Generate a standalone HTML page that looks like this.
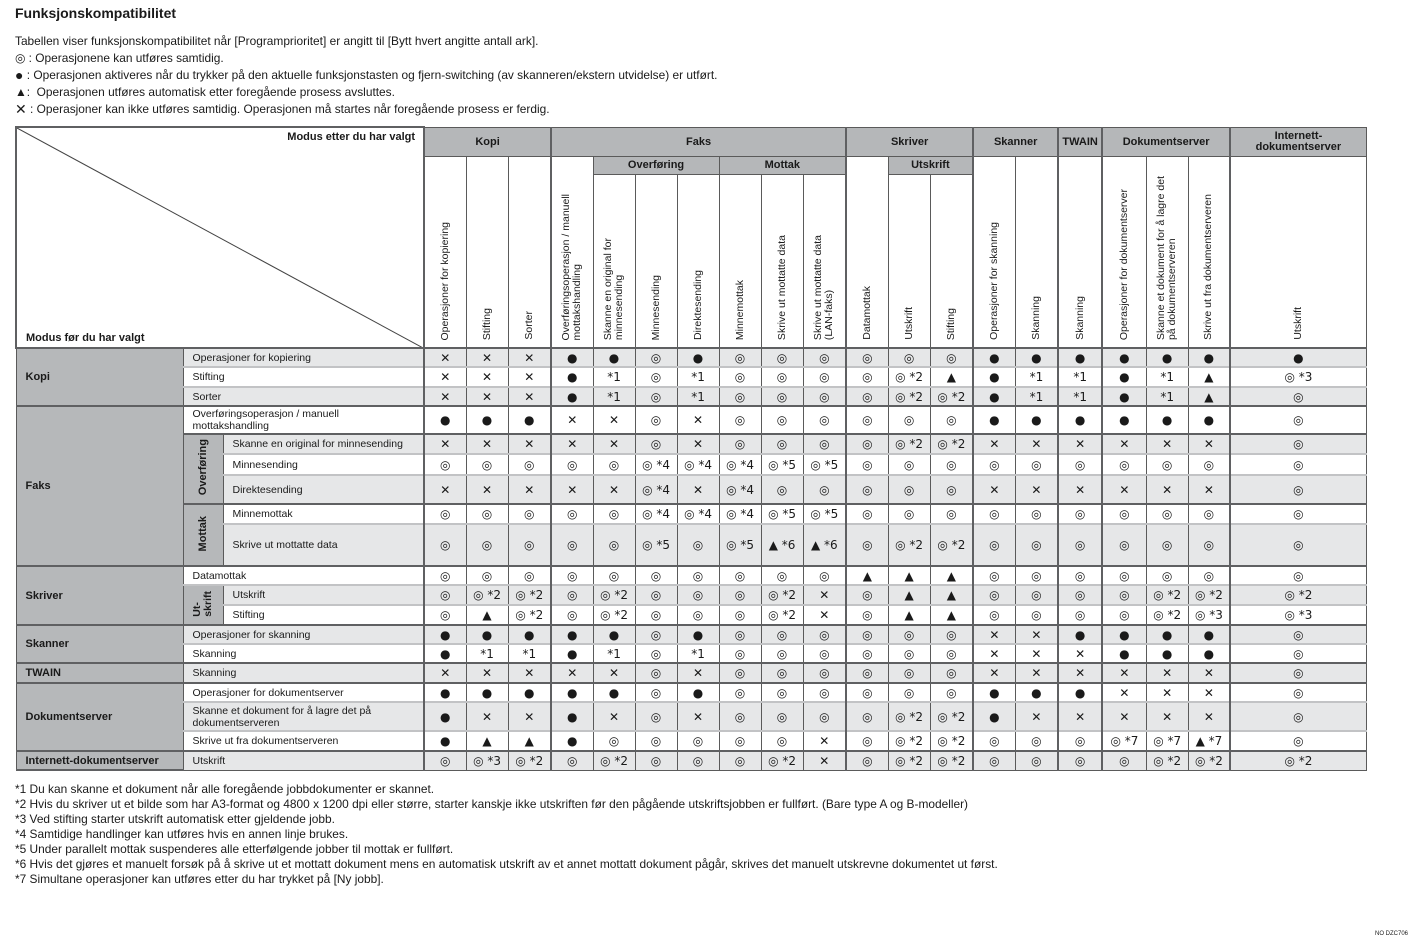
<!DOCTYPE html>
<html><head><meta charset="utf-8">
<style>
body{margin:0;width:1418px;height:941px;background:#fff;font-family:"Liberation Sans",Arial,sans-serif;color:#1a1a1a;position:relative;overflow:hidden}
.t{position:absolute;left:15px;font-size:11.9px;line-height:14px;height:14px;white-space:nowrap}
.t span{display:inline-block;line-height:14px;vertical-align:top}
h1{position:absolute;left:15px;top:5px;margin:0;font-size:14px;font-weight:bold}
table{position:absolute;left:15px;top:126px;width:1350px;border-collapse:collapse;table-layout:fixed;font-size:11px}
td{border:1px solid #5a5a5a;padding:0;text-align:center;vertical-align:middle;overflow:hidden;white-space:nowrap;font-family:"DejaVu Sans",sans-serif;font-size:12px}
.h{background:#b5b7b9;font-family:"Liberation Sans",sans-serif;font-weight:bold;font-size:11px}
.r{vertical-align:bottom;padding-bottom:4px}
.r div{writing-mode:vertical-rl;transform:rotate(180deg);font-family:"Liberation Sans",sans-serif;font-size:10.5px;line-height:11px;text-align:left;display:inline-block}
.ga{background:#b6b8ba;font-family:"Liberation Sans",sans-serif;font-weight:bold;text-align:left;padding-left:9px;font-size:11px}
.sg{background:#b6b8ba;font-family:"Liberation Sans",sans-serif;font-weight:bold;font-size:11px}
.sg div{writing-mode:vertical-rl;transform:rotate(180deg);display:inline-block;line-height:11px;text-align:left}
.lb{font-family:"Liberation Sans",sans-serif;text-align:left;padding-left:9px;font-size:10.5px;line-height:12px}
tr.s td{background:#e6e7e8}
tr.s td.ga,tr.s td.sg{background:#b6b8ba}
tr.g td{border-top:2px solid #5f6062}
tr.w td{border-top:2px solid #c2c3c5}
tr.w td.ga{border-top:none}
.gv{border-left:2px solid #5f6062}
</style></head><body>
<h1>Funksjonskompatibilitet</h1>
<div class="t" style="top:34px">Tabellen viser funksjonskompatibilitet når [Programprioritet] er angitt til [Bytt hvert angitte antall ark].</div>
<div class="t" style="top:51px">◎ : Operasjonene kan utføres samtidig.</div>
<div class="t" style="top:68px"><span style="font-size:14px">●</span> : Operasjonen aktiveres når du trykker på den aktuelle funksjonstasten og fjern-switching (av skanneren/ekstern utvidelse) er utført.</div>
<div class="t" style="top:85px">▲:&nbsp; Operasjonen utføres automatisk etter foregående prosess avsluttes.</div>
<div class="t" style="top:102px"><span style="font-size:14px">✕</span> : Operasjoner kan ikke utføres samtidig. Operasjonen må startes når foregående prosess er ferdig.</div>

<table>
<colgroup><col style="width:167px"><col style="width:40px"><col style="width:201px">
<col style="width:42px"><col style="width:42px"><col style="width:43px">
<col style="width:42px"><col style="width:42px"><col style="width:42px"><col style="width:42px"><col style="width:42px"><col style="width:42px"><col style="width:43px">
<col style="width:42px"><col style="width:42px"><col style="width:43px">
<col style="width:42px"><col style="width:43px"><col style="width:44px">
<col style="width:44px"><col style="width:42px"><col style="width:42px"><col style="width:136px"></colgroup>
<tr style="height:29px">
<td colspan="3" rowspan="3" style="position:relative;border:2px solid #5f6062;font-family:'Liberation Sans',sans-serif;font-weight:bold;font-size:11px">
<svg style="position:absolute;left:0;top:0" width="408" height="221"><line x1="0" y1="0" x2="408" y2="221" stroke="#444" stroke-width="1"/></svg>
<div style="position:absolute;right:8px;top:3px">Modus etter du har valgt</div>
<div style="position:absolute;left:9px;bottom:3px">Modus før du har valgt</div></td>
<td colspan="3" class="h gv">Kopi</td><td colspan="7" class="h gv">Faks</td><td colspan="3" class="h gv">Skriver</td><td colspan="2" class="h gv">Skanner</td><td class="h gv">TWAIN</td><td colspan="3" class="h gv">Dokumentserver</td><td class="h gv" style="line-height:11px">Internett-<br>dokumentserver</td></tr>
<tr style="height:18px">
<td rowspan="2" class="r gv"><div>Operasjoner for kopiering</div></td><td rowspan="2" class="r"><div>Stifting</div></td><td rowspan="2" class="r"><div>Sorter</div></td>
<td rowspan="2" class="r gv"><div>Overføringsoperasjon / manuell<br>mottakshandling</div></td>
<td colspan="3" class="h">Overføring</td><td colspan="3" class="h">Mottak</td>
<td rowspan="2" class="r gv"><div>Datamottak</div></td><td colspan="2" class="h">Utskrift</td>
<td rowspan="2" class="r gv"><div>Operasjoner for skanning</div></td><td rowspan="2" class="r"><div>Skanning</div></td>
<td rowspan="2" class="r gv"><div>Skanning</div></td>
<td rowspan="2" class="r gv"><div>Operasjoner for dokumentserver</div></td><td rowspan="2" class="r"><div>Skanne et dokument for å lagre det<br>på dokumentserveren</div></td><td rowspan="2" class="r"><div>Skrive ut fra dokumentserveren</div></td>
<td rowspan="2" class="r gv"><div>Utskrift</div></td></tr>
<tr style="height:174px">
<td class="r"><div>Skanne en original for<br>minnesending</div></td><td class="r"><div>Minnesending</div></td><td class="r"><div>Direktesending</div></td>
<td class="r"><div>Minnemottak</div></td><td class="r"><div>Skrive ut mottatte data</div></td><td class="r"><div>Skrive ut mottatte data<br>(LAN-faks)</div></td>
<td class="r"><div>Utskrift</div></td><td class="r"><div>Stifting</div></td></tr>

<tr class="s g" style="height:19px"><td rowspan="3" class="ga">Kopi</td><td colspan="2" class="lb">Operasjoner for kopiering</td>
<td class="gv">✕</td><td>✕</td><td>✕</td><td class="gv">●</td><td>●</td><td>◎</td><td>●</td><td>◎</td><td>◎</td><td>◎</td><td class="gv">◎</td><td>◎</td><td>◎</td><td class="gv">●</td><td>●</td><td class="gv">●</td><td class="gv">●</td><td>●</td><td>●</td><td class="gv">●</td></tr>
<tr class="w" style="height:20px"><td colspan="2" class="lb">Stifting</td>
<td class="gv">✕</td><td>✕</td><td>✕</td><td class="gv">●</td><td>*1</td><td>◎</td><td>*1</td><td>◎</td><td>◎</td><td>◎</td><td class="gv">◎</td><td>◎ *2</td><td>▲</td><td class="gv">●</td><td>*1</td><td class="gv">*1</td><td class="gv">●</td><td>*1</td><td>▲</td><td class="gv">◎ *3</td></tr>
<tr class="s w" style="height:19px"><td colspan="2" class="lb">Sorter</td>
<td class="gv">✕</td><td>✕</td><td>✕</td><td class="gv">●</td><td>*1</td><td>◎</td><td>*1</td><td>◎</td><td>◎</td><td>◎</td><td class="gv">◎</td><td>◎ *2</td><td>◎ *2</td><td class="gv">●</td><td>*1</td><td class="gv">*1</td><td class="gv">●</td><td>*1</td><td>▲</td><td class="gv">◎</td></tr>

<tr class="g" style="height:28px"><td rowspan="6" class="ga">Faks</td><td colspan="2" class="lb">Overføringsoperasjon / manuell<br>mottakshandling</td>
<td class="gv">●</td><td>●</td><td>●</td><td class="gv">✕</td><td>✕</td><td>◎</td><td>✕</td><td>◎</td><td>◎</td><td>◎</td><td class="gv">◎</td><td>◎</td><td>◎</td><td class="gv">●</td><td>●</td><td class="gv">●</td><td class="gv">●</td><td>●</td><td>●</td><td class="gv">◎</td></tr>
<tr class="s g" style="height:20px"><td rowspan="3" class="sg"><div>Overføring</div></td><td class="lb">Skanne en original for minnesending</td>
<td class="gv">✕</td><td>✕</td><td>✕</td><td class="gv">✕</td><td>✕</td><td>◎</td><td>✕</td><td>◎</td><td>◎</td><td>◎</td><td class="gv">◎</td><td>◎ *2</td><td>◎ *2</td><td class="gv">✕</td><td>✕</td><td class="gv">✕</td><td class="gv">✕</td><td>✕</td><td>✕</td><td class="gv">◎</td></tr>
<tr class="w" style="height:21px"><td class="lb">Minnesending</td>
<td class="gv">◎</td><td>◎</td><td>◎</td><td class="gv">◎</td><td>◎</td><td>◎ *4</td><td>◎ *4</td><td>◎ *4</td><td>◎ *5</td><td>◎ *5</td><td class="gv">◎</td><td>◎</td><td>◎</td><td class="gv">◎</td><td>◎</td><td class="gv">◎</td><td class="gv">◎</td><td>◎</td><td>◎</td><td class="gv">◎</td></tr>
<tr class="s w" style="height:29px"><td class="lb">Direktesending</td>
<td class="gv">✕</td><td>✕</td><td>✕</td><td class="gv">✕</td><td>✕</td><td>◎ *4</td><td>✕</td><td>◎ *4</td><td>◎</td><td>◎</td><td class="gv">◎</td><td>◎</td><td>◎</td><td class="gv">✕</td><td>✕</td><td class="gv">✕</td><td class="gv">✕</td><td>✕</td><td>✕</td><td class="gv">◎</td></tr>
<tr class="g" style="height:20px"><td rowspan="2" class="sg"><div>Mottak</div></td><td class="lb">Minnemottak</td>
<td class="gv">◎</td><td>◎</td><td>◎</td><td class="gv">◎</td><td>◎</td><td>◎ *4</td><td>◎ *4</td><td>◎ *4</td><td>◎ *5</td><td>◎ *5</td><td class="gv">◎</td><td>◎</td><td>◎</td><td class="gv">◎</td><td>◎</td><td class="gv">◎</td><td class="gv">◎</td><td>◎</td><td>◎</td><td class="gv">◎</td></tr>
<tr class="s w" style="height:42px"><td class="lb">Skrive ut mottatte data</td>
<td class="gv">◎</td><td>◎</td><td>◎</td><td class="gv">◎</td><td>◎</td><td>◎ *5</td><td>◎</td><td>◎ *5</td><td>▲ *6</td><td>▲ *6</td><td class="gv">◎</td><td>◎ *2</td><td>◎ *2</td><td class="gv">◎</td><td>◎</td><td class="gv">◎</td><td class="gv">◎</td><td>◎</td><td>◎</td><td class="gv">◎</td></tr>

<tr class="g" style="height:19px"><td rowspan="3" class="ga">Skriver</td><td colspan="2" class="lb">Datamottak</td>
<td class="gv">◎</td><td>◎</td><td>◎</td><td class="gv">◎</td><td>◎</td><td>◎</td><td>◎</td><td>◎</td><td>◎</td><td>◎</td><td class="gv">▲</td><td>▲</td><td>▲</td><td class="gv">◎</td><td>◎</td><td class="gv">◎</td><td class="gv">◎</td><td>◎</td><td>◎</td><td class="gv">◎</td></tr>
<tr class="s w" style="height:20px"><td rowspan="2" class="sg" style="font-size:10.5px"><div>Ut-<br>skrift</div></td><td class="lb">Utskrift</td>
<td class="gv">◎</td><td>◎ *2</td><td>◎ *2</td><td class="gv">◎</td><td>◎ *2</td><td>◎</td><td>◎</td><td>◎</td><td>◎ *2</td><td>✕</td><td class="gv">◎</td><td>▲</td><td>▲</td><td class="gv">◎</td><td>◎</td><td class="gv">◎</td><td class="gv">◎</td><td>◎ *2</td><td>◎ *2</td><td class="gv">◎ *2</td></tr>
<tr class="w" style="height:20px"><td class="lb">Stifting</td>
<td class="gv">◎</td><td>▲</td><td>◎ *2</td><td class="gv">◎</td><td>◎ *2</td><td>◎</td><td>◎</td><td>◎</td><td>◎ *2</td><td>✕</td><td class="gv">◎</td><td>▲</td><td>▲</td><td class="gv">◎</td><td>◎</td><td class="gv">◎</td><td class="gv">◎</td><td>◎ *2</td><td>◎ *3</td><td class="gv">◎ *3</td></tr>

<tr class="s g" style="height:19px"><td rowspan="2" class="ga">Skanner</td><td colspan="2" class="lb">Operasjoner for skanning</td>
<td class="gv">●</td><td>●</td><td>●</td><td class="gv">●</td><td>●</td><td>◎</td><td>●</td><td>◎</td><td>◎</td><td>◎</td><td class="gv">◎</td><td>◎</td><td>◎</td><td class="gv">✕</td><td>✕</td><td class="gv">●</td><td class="gv">●</td><td>●</td><td>●</td><td class="gv">◎</td></tr>
<tr class="w" style="height:19px"><td colspan="2" class="lb">Skanning</td>
<td class="gv">●</td><td>*1</td><td>*1</td><td class="gv">●</td><td>*1</td><td>◎</td><td>*1</td><td>◎</td><td>◎</td><td>◎</td><td class="gv">◎</td><td>◎</td><td>◎</td><td class="gv">✕</td><td>✕</td><td class="gv">✕</td><td class="gv">●</td><td>●</td><td>●</td><td class="gv">◎</td></tr>

<tr class="s g" style="height:20px"><td class="ga">TWAIN</td><td colspan="2" class="lb">Skanning</td>
<td class="gv">✕</td><td>✕</td><td>✕</td><td class="gv">✕</td><td>✕</td><td>◎</td><td>✕</td><td>◎</td><td>◎</td><td>◎</td><td class="gv">◎</td><td>◎</td><td>◎</td><td class="gv">✕</td><td>✕</td><td class="gv">✕</td><td class="gv">✕</td><td>✕</td><td>✕</td><td class="gv">◎</td></tr>

<tr class="g" style="height:19px"><td rowspan="3" class="ga">Dokumentserver</td><td colspan="2" class="lb">Operasjoner for dokumentserver</td>
<td class="gv">●</td><td>●</td><td>●</td><td class="gv">●</td><td>●</td><td>◎</td><td>●</td><td>◎</td><td>◎</td><td>◎</td><td class="gv">◎</td><td>◎</td><td>◎</td><td class="gv">●</td><td>●</td><td class="gv">●</td><td class="gv">✕</td><td>✕</td><td>✕</td><td class="gv">◎</td></tr>
<tr class="s w" style="height:29px"><td colspan="2" class="lb">Skanne et dokument for å lagre det på<br>dokumentserveren</td>
<td class="gv">●</td><td>✕</td><td>✕</td><td class="gv">●</td><td>✕</td><td>◎</td><td>✕</td><td>◎</td><td>◎</td><td>◎</td><td class="gv">◎</td><td>◎ *2</td><td>◎ *2</td><td class="gv">●</td><td>✕</td><td class="gv">✕</td><td class="gv">✕</td><td>✕</td><td>✕</td><td class="gv">◎</td></tr>
<tr class="w" style="height:20px"><td colspan="2" class="lb">Skrive ut fra dokumentserveren</td>
<td class="gv">●</td><td>▲</td><td>▲</td><td class="gv">●</td><td>◎</td><td>◎</td><td>◎</td><td>◎</td><td>◎</td><td>✕</td><td class="gv">◎</td><td>◎ *2</td><td>◎ *2</td><td class="gv">◎</td><td>◎</td><td class="gv">◎</td><td class="gv">◎ *7</td><td>◎ *7</td><td>▲ *7</td><td class="gv">◎</td></tr>

<tr class="s g" style="height:19px"><td class="ga" style="border-bottom:2px solid #5f6062">Internett-dokumentserver</td><td colspan="2" class="lb">Utskrift</td>
<td class="gv">◎</td><td>◎ *3</td><td>◎ *2</td><td class="gv">◎</td><td>◎ *2</td><td>◎</td><td>◎</td><td>◎</td><td>◎ *2</td><td>✕</td><td class="gv">◎</td><td>◎ *2</td><td>◎ *2</td><td class="gv">◎</td><td>◎</td><td class="gv">◎</td><td class="gv">◎</td><td>◎ *2</td><td>◎ *2</td><td class="gv">◎ *2</td></tr>
</table>

<div class="t" style="top:782px">*1 Du kan skanne et dokument når alle foregående jobbdokumenter er skannet.</div>
<div class="t" style="top:797px">*2 Hvis du skriver ut et bilde som har A3-format og 4800 x 1200 dpi eller større, starter kanskje ikke utskriften før den pågående utskriftsjobben er fullført. (Bare type A og B-modeller)</div>
<div class="t" style="top:812px">*3 Ved stifting starter utskrift automatisk etter gjeldende jobb.</div>
<div class="t" style="top:827px">*4 Samtidige handlinger kan utføres hvis en annen linje brukes.</div>
<div class="t" style="top:842px">*5 Under parallelt mottak suspenderes alle etterfølgende jobber til mottak er fullført.</div>
<div class="t" style="top:857px">*6 Hvis det gjøres et manuelt forsøk på å skrive ut et mottatt dokument mens en automatisk utskrift av et annet mottatt dokument pågår, skrives det manuelt utskrevne dokumentet ut først.</div>
<div class="t" style="top:872px">*7 Simultane operasjoner kan utføres etter du har trykket på [Ny jobb].</div>
<div style="position:absolute;left:1375px;top:931px;font-size:6px">NO DZC706</div>
</body></html>
